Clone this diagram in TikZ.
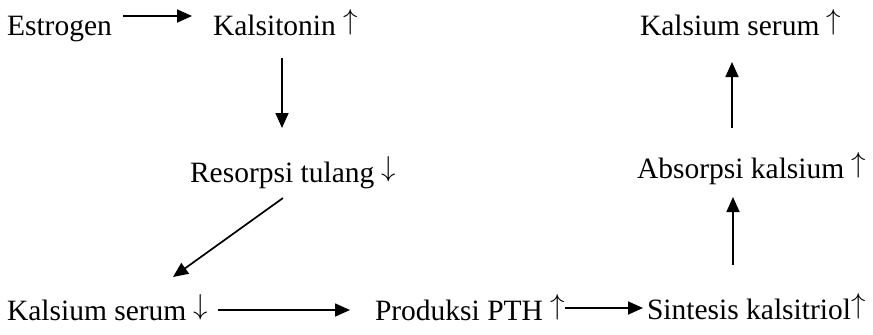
\documentclass[tikz,border=0pt]{standalone}
\usepackage{fontspec}
\setmainfont{Liberation Serif}
\usetikzlibrary{arrows.meta,calc}
\newcommand{\myup}{\raisebox{0.17em}{$\uparrow$}}
\newcommand{\mydown}{\raisebox{0.17em}{$\downarrow$}}
\begin{document}
\begin{tikzpicture}[x=0.5pt,y=-0.5pt,
  lbl/.style={anchor=base west,inner sep=0pt,outer sep=0pt,font=\fontsize{14.75}{18}\selectfont},
  arr/.style={draw=black,line width=0.85pt,-{Triangle[length=7.5pt,width=6.5pt]}}]
\useasboundingbox (0,0) rectangle (873,334);
\node[lbl] (est) at (7,35) {Estrogen};
\node[lbl] (kal) at (213,35) {Kalsitonin \myup};
\node[lbl] (kst) at (640,35) {Kalsium serum \myup};
\node[lbl] (res) at (190,182) {Resorpsi tulang \mydown};
\node[lbl] (abs) at (637,178) {Absorpsi kalsium \myup};
\node[lbl] (ksb) at (7,320) {Kalsium serum \mydown};
\node[lbl] (pth) at (375,320) {Produksi PTH \myup};
\node[lbl] (sin) at (647,319) {Sintesis kalsitriol\myup};
\draw[arr] ($(est.base west)+(116,-19)$) -- ($(kal.base west)+(-21,-19)$);
\draw[arr] ($(kal.base west)+(69,23)$) -- ($(res.base west)+(92,-54)$);
\draw[arr] ($(res.base west)+(93,16)$) -- ($(ksb.base west)+(166,-43)$);
\draw[arr] ($(ksb.base west)+(211,-10)$) -- ($(pth.base west)+(-25,-10)$);
\draw[arr] ($(pth.base west)+(190,-12)$) -- ($(sin.base west)+(-4,-11)$);
\draw[arr] ($(sin.base west)+(86,-54)$) -- ($(abs.base west)+(96,19)$);
\draw[arr] ($(abs.base west)+(95,-50)$) -- ($(kst.base west)+(92,27)$);
\end{tikzpicture}
\end{document}
